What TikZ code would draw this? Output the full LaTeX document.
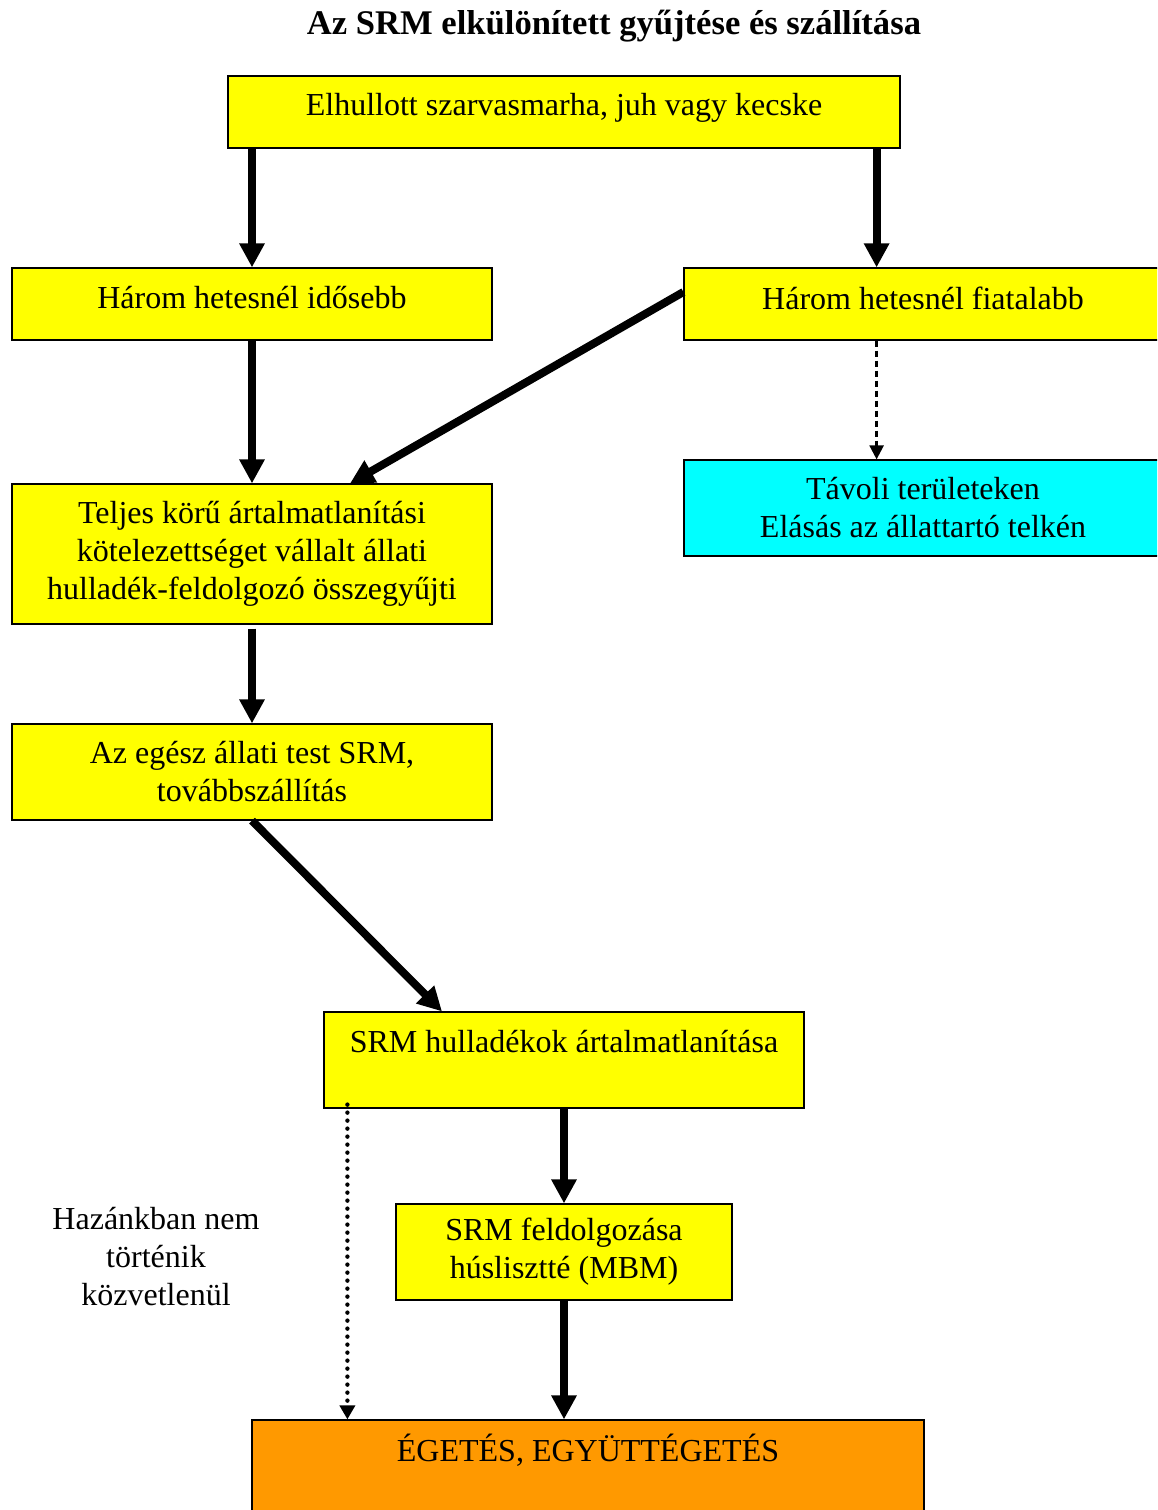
\documentclass[tikz,border=0pt]{standalone}
\usepackage{fontspec}
\setmainfont{Liberation Serif}
\usetikzlibrary{arrows.meta,calc}
\definecolor{byellow}{HTML}{FFFF00}
\definecolor{bcyan}{HTML}{00FFFF}
\definecolor{borange}{HTML}{FF9900}
\begin{document}
\begin{tikzpicture}[x=0.5pt,y=-0.5pt,
  every node/.style={font=\fontsize{16}{19}\selectfont, align=center},
  box/.style={draw=black, line width=0.6pt, rectangle, inner sep=0pt},
  thickarrow/.style={line width=4pt, -{Triangle[width=12pt,length=12pt]}},
  dasharrow/.style={line width=1.2pt, dash pattern=on 3pt off 2pt, -{Triangle[width=7pt,length=7pt]}},
  dotarrow/.style={line width=2.2pt, line cap=round, dash pattern=on 0pt off 4pt, -{Triangle[width=7.5pt,length=7pt]}}]
\clip (0,0) rectangle (1157,1510);
\useasboundingbox (0,0) rectangle (1157,1510);
% title
\node[font=\fontsize{17.3}{20}\selectfont\bfseries] (title) at (614,26) {Az SRM elkülönített gyűjtése és szállítása};
% boxes
\node[box, fill=byellow, minimum width=336pt, minimum height=36pt] (b1) at (564,112) {};
\node (b1t) at (564,108) {Elhullott szarvasmarha, juh vagy kecske};
\node[box, fill=byellow, minimum width=240pt, minimum height=36pt] (b2) at (252,304) {};
\node (b2t) at (252,298) {Három hetesnél idősebb};
\node[box, fill=byellow, minimum width=239pt, minimum height=36pt] (b3) at (923,304) {};
\node (b3t) at (923,298) {Három hetesnél fiatalabb};
\node[box, fill=bcyan, minimum width=239pt, minimum height=48pt] (b4) at (923,508) {Távoli területeken\\Elásás az állattartó telkén};
\node[box, fill=byellow, minimum width=240pt, minimum height=70pt] (b5) at (252,554) {Teljes körű ártalmatlanítási\\kötelezettséget vállalt állati\\hulladék-feldolgozó összegyűjti};
\node[box, fill=byellow, minimum width=240pt, minimum height=48pt] (b6) at (252,772) {Az egész állati test SRM,\\továbbszállítás};
\node[box, fill=byellow, minimum width=240pt, minimum height=48pt] (b7) at (564,1060) {};
\node (b7t) at (564,1042) {SRM hulladékok ártalmatlanítása};
\node[box, fill=byellow, minimum width=168pt, minimum height=48pt] (b8) at (564,1252) {SRM feldolgozása\\húslisztté (MBM)};
\node[box, fill=borange, minimum width=336pt, minimum height=60pt] (b9) at (588,1480) {};
\node (b9t) at (588,1450) {ÉGETÉS, EGYÜTTÉGETÉS};
\node (lab) at (156,1257) {Hazánkban nem\\történik\\közvetlenül};
% arrows
\draw[thickarrow] (b1.south -| b2) -- (b2.north);
\draw[thickarrow] ([xshift=-12pt]b1.south east) -- ([xshift=-12pt]b1.south east |- b3.north);
\draw[thickarrow] (b2.south) -- (b5.north);
\draw[thickarrow] ([yshift=6pt]b3.west) -- ([xshift=49pt]b5.north);
\draw[dasharrow] ([xshift=-12pt]b1.south east |- b3.south) -- ([xshift=-12pt]b1.south east |- b4.north);
\draw[thickarrow] ([yshift=-2pt]b5.south) -- (b6.north);
\draw[thickarrow] (b6.south) -- ([xshift=-61pt]b7.north);
\draw[thickarrow] (b7.south) -- (b8.north);
\draw[thickarrow] (b8.south) -- (b8.south |- b9.north);
\draw[dotarrow] ([xshift=12pt,yshift=2pt]b7.south west) -- ([xshift=12pt]b7.south west |- b9.north);
\end{tikzpicture}
\end{document}
